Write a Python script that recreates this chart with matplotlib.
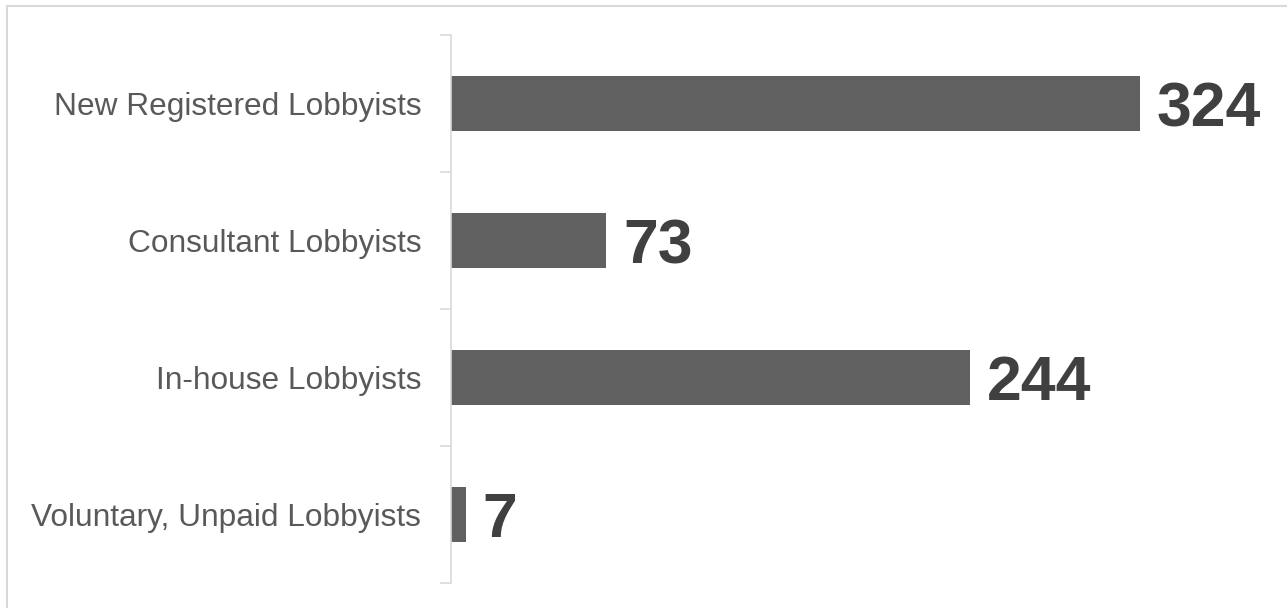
import matplotlib
matplotlib.use("Agg")

import matplotlib.pyplot as plt
from matplotlib.patches import Rectangle

plt.rcParams["font.family"] = ["Liberation Sans", "DejaVu Sans"]

# lobbyist registration counts
categories = ["New Registered Lobbyists", "Consultant Lobbyists",
              "In-house Lobbyists", "Voluntary, Unpaid Lobbyists"]
counts = [324, 73, 244, 7]

BAR_COLOR = "#606060"
VALUE_COLOR = "#404040"
LABEL_COLOR = "#595959"
LINE_COLOR = "#d9d9d9"

W, H = 1287, 608
fig = plt.figure(figsize=(W / 100, H / 100), dpi=100)

# light frame around the chart area
fig.patches.append(Rectangle((7 / W, -0.1), 1.2, 1 - 6 / H + 0.1,
                             transform=fig.transFigure, fill=False,
                             edgecolor=LINE_COLOR, linewidth=1.5))

ax = fig.add_axes([451 / W, 1 - 583 / H, 808 / W, 548 / H])
ypos = list(range(len(categories)))
ax.barh(ypos, counts, height=0.4, color=BAR_COLOR)
ax.set_xlim(0, 380)
ax.set_ylim(len(categories) - 0.5, -0.5)

# value labels next to each bar
for y, v in zip(ypos, counts):
    ax.annotate(str(v), (v, y), xytext=(12, -4.5), textcoords="offset points",
                va="center", ha="left", fontsize=45, fontweight="bold",
                color=VALUE_COLOR)

# category labels centred on bars, tick marks on the boundaries
ax.set_yticks(ypos)
ax.set_yticklabels(categories, fontsize=22.8, color=LABEL_COLOR)
ax.tick_params(axis="y", which="major", length=0, pad=21.5)
ax.set_yticks([i - 0.5 for i in range(len(categories) + 1)], minor=True)
ax.tick_params(axis="y", which="minor", length=8, width=1.2, color=LINE_COLOR)
ax.set_xticks([])

for side in ["top", "right", "bottom"]:
    ax.spines[side].set_visible(False)
ax.spines["left"].set_color(LINE_COLOR)
ax.spines["left"].set_linewidth(1.2)

fig.savefig("out.png", dpi=100)
